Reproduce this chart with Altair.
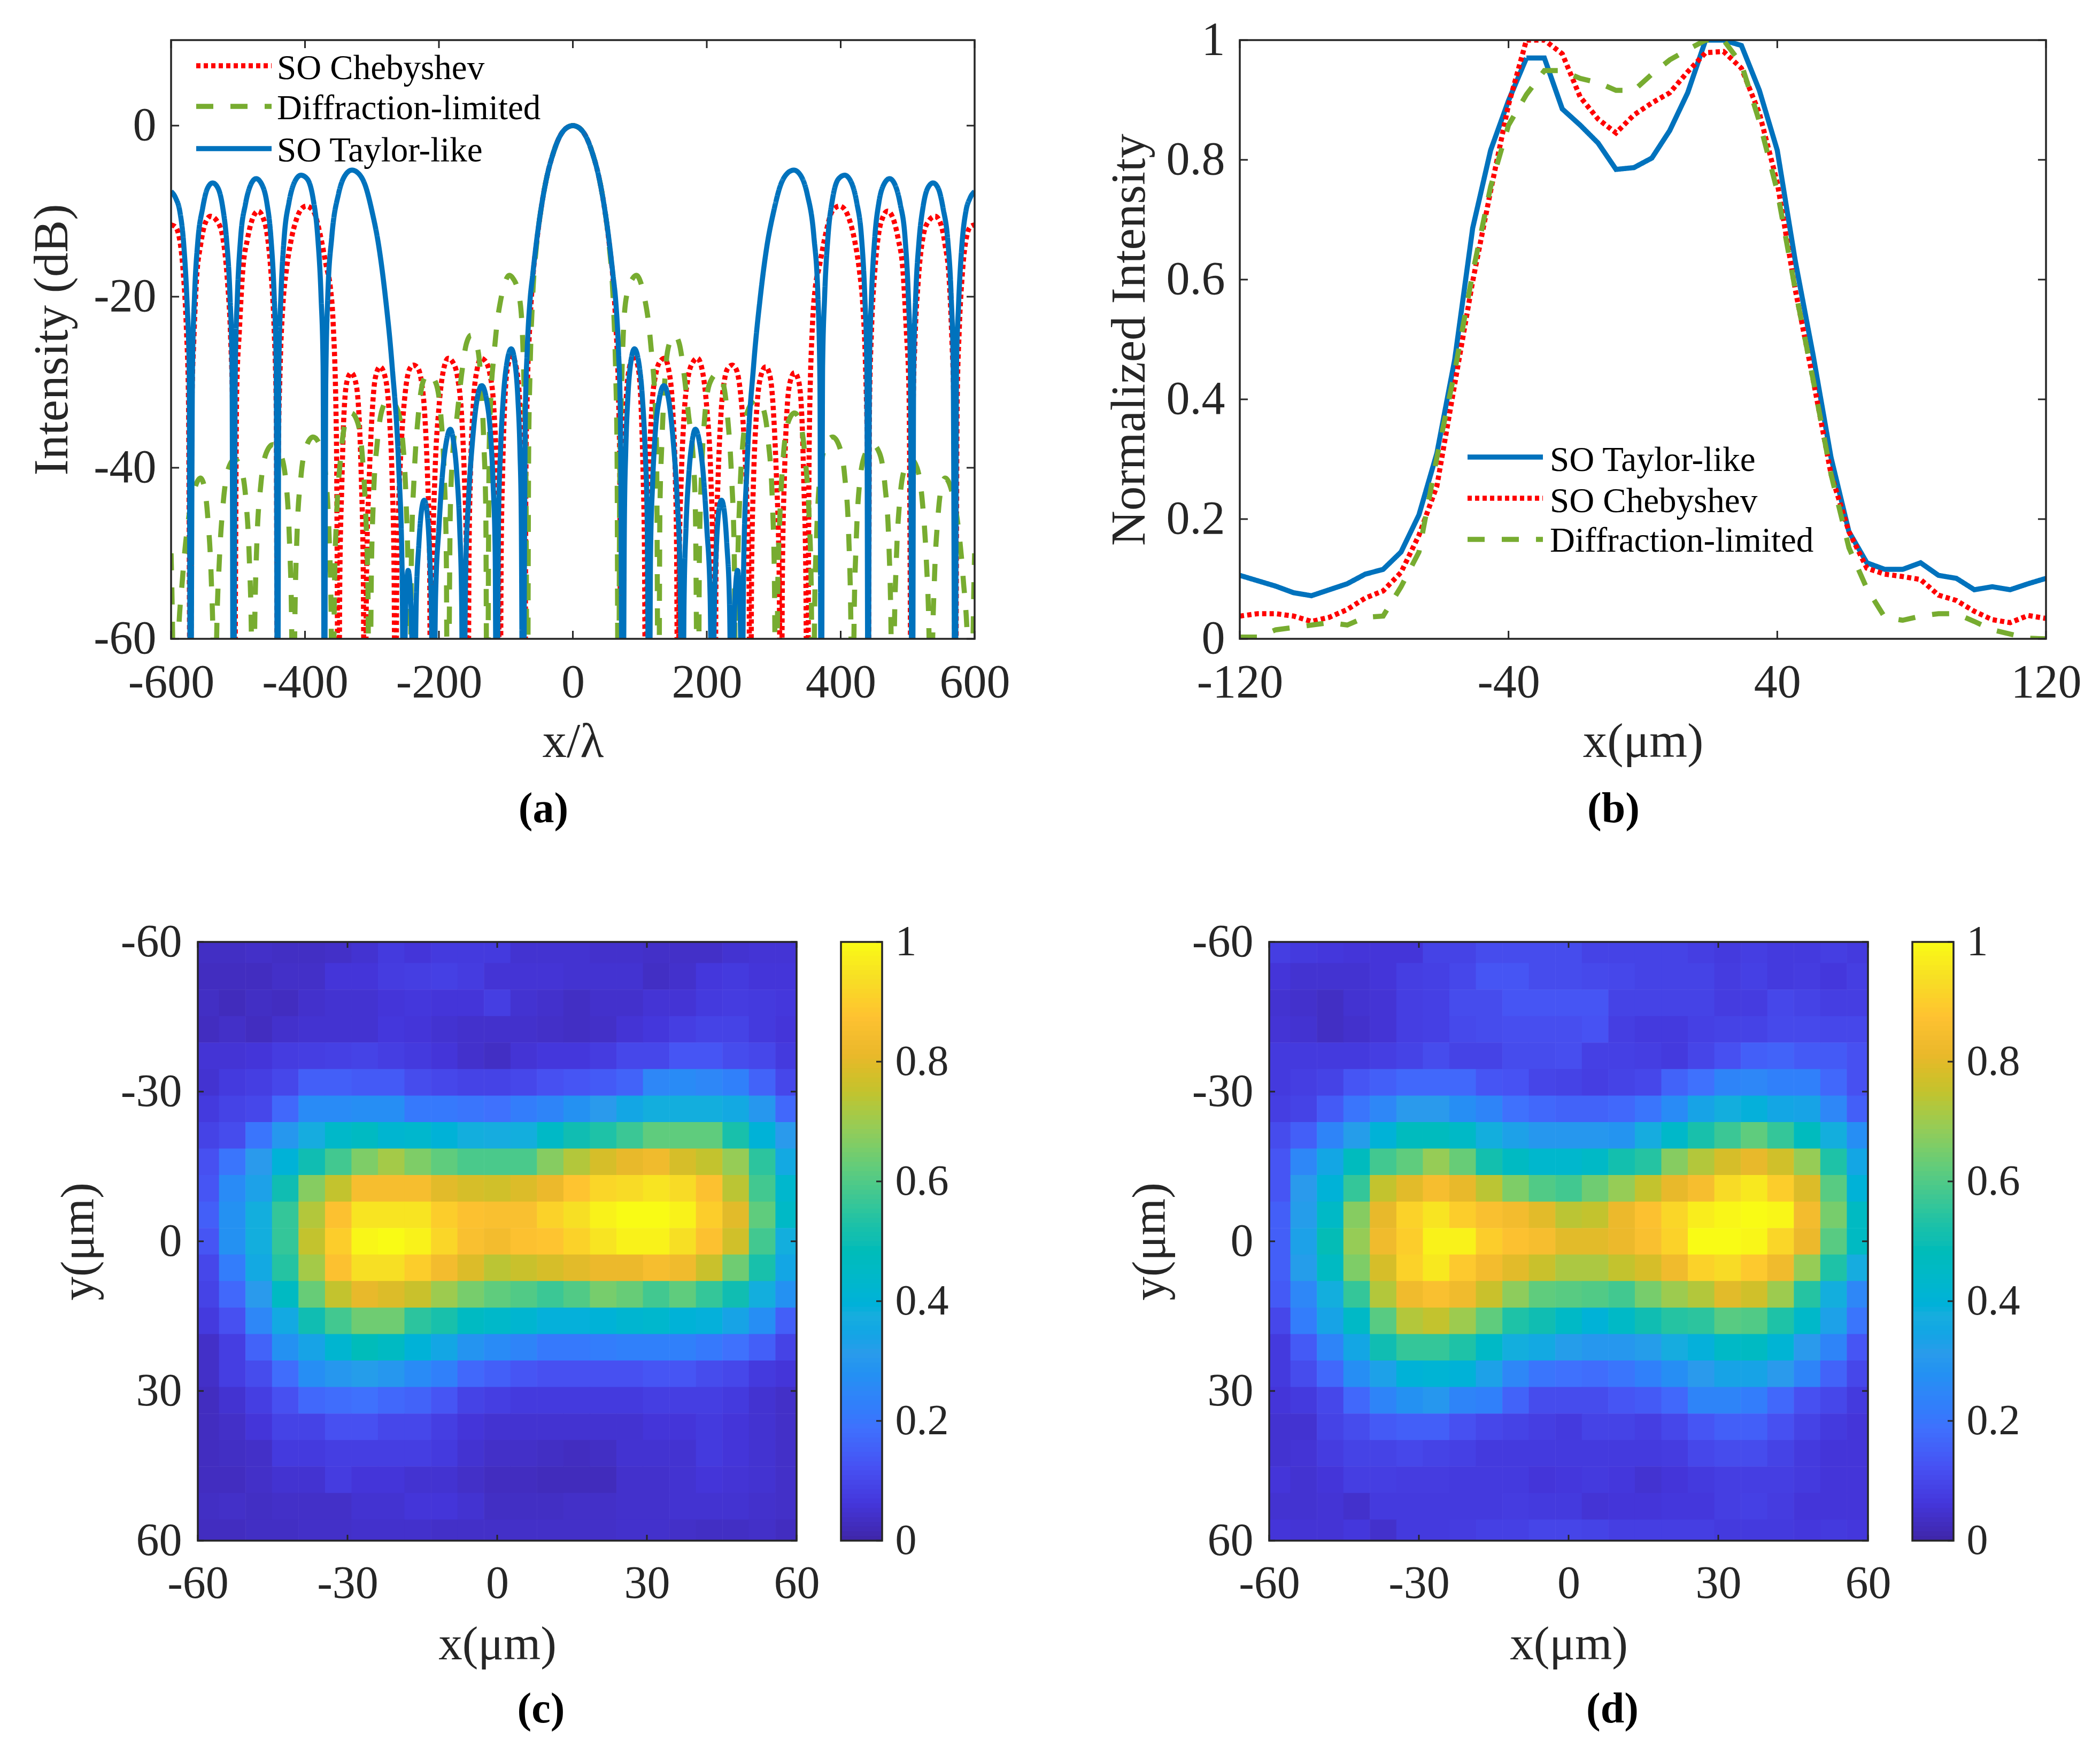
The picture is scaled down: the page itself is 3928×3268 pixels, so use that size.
import altair as alt
import pandas as pd

FONT = "Liberation Serif"
INK = "#262626"
NAMES = {"t": "SO Taylor-like", "c": "SO Chebyshev", "d": "Diffraction-limited"}
COLORS = {NAMES["t"]: "#0072BD", NAMES["c"]: "#FF0000", NAMES["d"]: "#77AC30"}
DASHES = {NAMES["t"]: [1, 0], NAMES["c"]: [8, 6], NAMES["d"]: [32, 32]}

# Panel (a): pattern for x >= 0, the figure is mirror-symmetric about x = 0
A_TAYLOR = [(0,0),(10,-0.3),(21,-1.5),(30,-3.4),(38,-5.7),(46,-9),(54,-13.4),(60,-17.5),(64,-20.5),(68,-26),(71,-34),(74.5,-80),
 (77,-46),(79,-38),(82,-32),(86,-28),(92,-26.1),(98,-27.5),(104,-32),(108,-38),(111,-46),(114,-80),
 (116,-50),(119,-42),(123,-36),(129,-32),(136,-30.4),(143,-32),(150,-37),(156,-44),(160,-52),(164,-80),
 (166,-56),(169,-47),(173,-41),(178,-37),(183,-35.5),(189,-37),(195,-41),(200,-47),(205,-55),(209,-80),
 (211,-58),(214,-50),(218,-45),(222,-43.8),(226,-45),(230,-49),(234,-56),(238,-80),
 (240,-62),(243,-54),(246,-52),(249,-55),(251,-63),(252,-80),
 (255,-52),(260,-40),(270,-28),(280,-20),(290,-14),(300,-10),(310,-7),(320,-5.6),(330,-5.2),(340,-5.8),(350,-8),(360,-13),(366,-20),(369,-30),(371,-80),
 (373,-28),(376,-20),(381,-13),(388,-8.5),(397,-6.2),(406,-5.8),(415,-6.5),(424,-9),(431,-13),(436,-20),(439,-28),(441,-80),
 (443,-28),(446,-20),(451,-13),(457,-9),(465,-6.8),(473,-6.2),(481,-6.9),(489,-9.2),(496,-13),(501,-20),(504,-28),(507,-80),
 (509,-28),(512,-20),(517,-13.5),(523,-9.5),(530,-7.3),(538,-6.7),(546,-7.4),(553,-9.7),(560,-13.5),(565,-20),(568,-28),(571,-80),
 (573,-28),(576,-21),(581,-14),(587,-10),(593,-8.5),(600,-7.7)]
A_CHEBY = [(0,0),(10,-0.3),(21,-1.5),(30,-3.4),(38,-5.7),(46,-9),(54,-13.6),(60,-18),(64,-23),(68,-31),(70,-40),(72,-80),
 (74,-50),(76,-40),(79,-33),(84,-28.5),(91,-26.9),(98,-28.5),(102,-33),(105,-41),(107,-50),(109,-80),
 (111,-50),(114,-40),(118,-33),(124,-29),(131,-27.5),(137,-27.2),(143,-28.5),(149,-33),(153,-41),(155,-50),(157,-80),
 (159,-50),(162,-41),(166,-34),(172,-29.5),(179,-27.7),(186,-27.2),(193,-28.5),(200,-33),(206,-41),(209,-50),(212,-80),
 (214,-50),(217,-41),(221,-34),(227,-29.5),(232,-28.3),(238,-28),(244,-28.5),(250,-31),(256,-37),(260,-44),(263,-53),(265,-80),
 (267,-52),(270,-41),(274,-34),(280,-29.5),(288,-28.2),(295,-29.5),(300,-34),(304,-41),(308,-52),(311,-80),
 (313,-52),(316,-41),(320,-33),(325,-29.8),(331,-28.9),(337,-29.8),(342,-34),(345,-42),(348,-53),(350,-80),
 (353,-37),(358,-23),(362,-19),(368,-16.5),(378,-12.5),(385,-10.4),(392,-9.6),(398,-9.4),(405,-9.7),(413,-11),(421,-13.5),(428,-17),(433,-21),(437,-28),(440,-40),(441,-80),
 (443,-33),(446,-24),(451,-17),(457,-12.5),(463,-10.7),(470,-10),(478,-10.8),(486,-13.3),(493,-17),(498,-24),(502,-31),(506,-80),
 (508,-34),(511,-25),(516,-18),(523,-13),(531,-11.2),(541,-10.6),(549,-11.4),(556,-14),(562,-18),(566,-25),(569,-33),(571,-80),
 (574,-32),(577,-24),(582,-17),(588,-13),(594,-11.8),(600,-11.6)]
A_DIFF = [(0,0),(10,-0.3),(21,-1.5),(30,-3.4),(38,-5.7),(46,-9),(54,-13.8),(60,-20),(64,-29),(66,-38),(68,-80),
 (70,-42),(73,-30),(77,-22),(83,-19),(89,-17.9),(95,-17.5),(102,-18.5),(108,-20.5),(113,-23),(118,-27),(122,-31),(125,-38),(128,-80),
 (130,-45),(133,-37),(138,-29),(144,-25.5),(152,-24.5),(159,-25.5),(166,-29),(173,-34),(179,-38),(183,-45),(187,-80),
 (189,-50),(192,-41),(197,-34),(205,-30),(216,-29),(224,-30),(231,-34),(237,-41),(241,-50),(244,-80),
 (246,-53),(249,-44),(254,-37),(263,-33),(275,-32),(284,-33),(292,-37),(298,-44),(301,-53),(304,-80),
 (306,-54),(309,-46),(314,-39),(321,-34.8),(331,-33.6),(340,-34.8),(347,-39),(353,-46),(356,-54),(359,-80),
 (361,-57),(364,-48),(369,-41),(377,-37.5),(388,-36.4),(398,-37.5),(406,-41),(412,-48),(415,-57),(418,-80),
 (420,-58),(423,-49),(428,-42),(437,-38.3),(448,-37.3),(458,-38.3),(466,-42),(472,-49),(475,-58),(478,-80),
 (480,-60),(483,-51),(488,-44),(496,-40),(505,-39),(514,-40),(522,-44),(528,-51),(532,-60),(535,-80),
 (537,-62),(540,-53),(545,-46),(551,-42),(556,-41.2),(565,-42.5),(574,-46),(583,-53),(590,-62),(595,-80),
 (598,-58),(600,-50)]

# Panel (b)
B_X = [-120,-114.67,-109.33,-104,-98.67,-93.33,-88,-82.67,-77.33,-72,-66.67,-61.33,-56,-50.67,-45.33,-40,-34.67,-29.33,-24,-18.67,-13.33,-8,-2.67,2.67,8,13.33,18.67,24,29.33,34.67,40,45.33,50.67,56,61.33,66.67,72,77.33,82.67,88,93.33,98.67,104,109.33,114.67,120]
B_TAYLOR = [.106,.097,.088,.077,.072,.082,.092,.108,.116,.145,.207,.31,.467,.686,.816,.899,.97,.97,.885,.858,.828,.784,.787,.803,.849,.912,1,1,.991,.916,.816,.632,.474,.303,.179,.127,.116,.116,.127,.106,.101,.082,.087,.082,.092,.101]
B_CHEBY = [.038,.042,.042,.038,.029,.036,.049,.068,.08,.111,.173,.255,.426,.597,.748,.892,1,1,.977,.905,.868,.845,.875,.895,.912,.947,.979,.981,.953,.878,.762,.584,.433,.275,.179,.118,.108,.104,.099,.073,.064,.046,.032,.027,.039,.034]
B_DIFF = [.003,.003,.015,.019,.023,.027,.023,.036,.038,.087,.145,.303,.447,.611,.755,.858,.909,.949,.949,.936,.929,.916,.916,.943,.967,.984,1,1,.96,.864,.748,.584,.433,.275,.152,.084,.036,.031,.038,.042,.042,.029,.015,.008,.001,0]

# Panels (c), (d): 23 x 23 samples, top row first
C_ROWS = [
[.035,.035,.04,.035,.035,.04,.05,.07,.06,.07,.07,.07,.05,.05,.05,.045,.045,.04,.04,.04,.05,.055,.055],
[.03,.03,.03,.04,.04,.06,.06,.075,.08,.085,.075,.055,.055,.055,.05,.05,.05,.035,.045,.065,.07,.06,.06],
[.035,.025,.035,.03,.045,.05,.05,.06,.065,.06,.06,.08,.05,.045,.035,.045,.045,.055,.055,.07,.075,.07,.065],
[.03,.04,.03,.045,.05,.05,.05,.065,.06,.05,.045,.045,.045,.04,.035,.04,.055,.065,.08,.09,.09,.07,.06],
[.055,.055,.06,.075,.08,.085,.09,.08,.07,.06,.045,.035,.055,.065,.065,.075,.10,.10,.13,.13,.11,.10,.07],
[.05,.07,.08,.10,.15,.15,.14,.14,.11,.10,.09,.09,.10,.12,.13,.14,.16,.25,.26,.25,.23,.16,.10],
[.07,.09,.10,.17,.26,.26,.27,.27,.21,.21,.20,.19,.22,.24,.28,.31,.35,.38,.38,.38,.36,.30,.17],
[.09,.11,.20,.30,.37,.44,.46,.42,.43,.40,.38,.37,.38,.45,.50,.53,.57,.62,.62,.62,.52,.40,.31],
[.12,.20,.31,.40,.50,.58,.66,.71,.66,.62,.59,.59,.59,.67,.73,.78,.81,.83,.78,.75,.69,.55,.36],
[.13,.26,.33,.50,.67,.75,.85,.85,.85,.80,.78,.77,.79,.82,.88,.92,.93,.95,.93,.87,.74,.58,.43],
[.15,.28,.38,.56,.73,.87,.95,.95,.95,.90,.87,.86,.86,.91,.94,.98,1.0,1.0,.98,.90,.80,.62,.45],
[.13,.28,.38,.56,.75,.90,.99,1.0,.98,.92,.86,.84,.87,.88,.91,.95,.98,.98,.94,.87,.77,.58,.38],
[.10,.22,.36,.54,.71,.87,.94,.94,.90,.84,.79,.74,.76,.78,.80,.82,.82,.85,.83,.76,.64,.52,.35],
[.09,.17,.31,.46,.63,.75,.81,.79,.76,.70,.65,.62,.60,.57,.60,.65,.63,.58,.62,.56,.50,.38,.28],
[.07,.12,.25,.36,.50,.58,.64,.64,.55,.52,.46,.44,.42,.39,.39,.40,.42,.43,.40,.39,.34,.27,.15],
[.04,.08,.16,.28,.34,.42,.48,.46,.40,.35,.29,.26,.24,.21,.21,.22,.23,.23,.23,.21,.19,.15,.09],
[.04,.08,.11,.18,.27,.30,.32,.30,.26,.23,.17,.15,.13,.12,.12,.12,.12,.13,.13,.11,.10,.07,.06],
[.03,.05,.08,.12,.17,.18,.19,.17,.16,.13,.09,.08,.07,.07,.07,.07,.07,.08,.08,.08,.07,.05,.04],
[.03,.04,.06,.09,.09,.12,.12,.10,.10,.08,.06,.05,.05,.05,.05,.05,.05,.06,.06,.07,.06,.05,.04],
[.03,.035,.04,.07,.07,.08,.08,.08,.08,.07,.05,.04,.04,.035,.03,.035,.05,.05,.05,.07,.06,.05,.04],
[.03,.03,.04,.05,.05,.075,.06,.06,.05,.05,.04,.03,.03,.025,.025,.025,.045,.045,.05,.06,.055,.05,.04],
[.035,.04,.035,.04,.04,.04,.05,.05,.06,.06,.05,.035,.035,.035,.04,.04,.045,.045,.05,.05,.05,.045,.04],
[.03,.03,.035,.035,.04,.04,.045,.045,.045,.04,.04,.04,.04,.04,.04,.04,.045,.045,.04,.035,.035,.04,.03],
]
D_ROWS = [
[.08,.07,.065,.06,.06,.06,.09,.09,.11,.11,.11,.11,.09,.09,.09,.09,.08,.07,.08,.07,.07,.08,.07],
[.06,.05,.05,.05,.06,.08,.085,.10,.13,.13,.11,.11,.105,.10,.09,.09,.09,.075,.085,.07,.075,.065,.08],
[.05,.045,.035,.05,.055,.08,.085,.11,.11,.13,.13,.13,.13,.09,.09,.09,.09,.075,.075,.10,.09,.08,.08],
[.055,.05,.035,.045,.055,.08,.085,.105,.11,.115,.115,.115,.125,.08,.07,.07,.085,.09,.09,.105,.105,.10,.10],
[.07,.07,.07,.07,.08,.09,.11,.09,.09,.11,.11,.115,.085,.085,.08,.07,.095,.12,.15,.16,.14,.14,.12],
[.07,.08,.09,.13,.15,.17,.17,.17,.13,.125,.095,.09,.08,.09,.10,.16,.19,.24,.25,.23,.23,.17,.12],
[.08,.09,.14,.20,.25,.31,.31,.27,.24,.19,.17,.16,.16,.17,.20,.26,.34,.38,.39,.35,.34,.25,.15],
[.11,.15,.24,.32,.40,.47,.47,.45,.38,.33,.30,.30,.30,.29,.37,.44,.52,.57,.62,.56,.47,.38,.27],
[.13,.25,.35,.47,.58,.62,.69,.63,.51,.46,.43,.43,.45,.51,.54,.67,.73,.78,.81,.77,.69,.53,.35],
[.13,.31,.40,.56,.75,.80,.85,.81,.74,.66,.60,.58,.64,.69,.75,.81,.85,.93,.96,.90,.79,.61,.40],
[.15,.32,.45,.67,.81,.91,.95,.90,.86,.84,.80,.74,.75,.82,.87,.92,.97,.99,1.0,.99,.84,.65,.46],
[.15,.33,.49,.69,.83,.90,.98,.98,.90,.87,.85,.80,.80,.82,.86,.91,1.0,1.0,.99,.92,.82,.61,.46],
[.15,.32,.46,.66,.78,.91,.96,.89,.84,.80,.76,.72,.72,.75,.78,.83,.91,.93,.89,.83,.69,.53,.37],
[.14,.25,.38,.56,.73,.83,.86,.83,.76,.68,.62,.61,.60,.58,.65,.70,.73,.80,.77,.70,.54,.38,.25],
[.10,.22,.34,.45,.61,.73,.75,.70,.62,.53,.50,.45,.40,.45,.50,.54,.55,.61,.60,.53,.44,.33,.20],
[.07,.14,.24,.35,.50,.56,.56,.53,.45,.38,.36,.32,.30,.30,.32,.37,.39,.45,.46,.41,.31,.24,.13],
[.07,.11,.17,.27,.33,.40,.41,.40,.33,.25,.20,.19,.18,.20,.23,.27,.31,.34,.34,.31,.24,.16,.10],
[.06,.07,.10,.17,.24,.28,.30,.24,.23,.16,.11,.11,.11,.13,.14,.17,.24,.24,.22,.17,.12,.10,.07],
[.05,.05,.09,.11,.14,.15,.15,.12,.10,.09,.08,.07,.09,.09,.08,.10,.13,.15,.15,.12,.09,.07,.06],
[.05,.055,.075,.09,.09,.10,.09,.085,.07,.07,.07,.07,.07,.07,.07,.075,.10,.11,.11,.09,.07,.06,.06],
[.06,.05,.06,.08,.08,.075,.075,.07,.07,.07,.06,.065,.07,.065,.05,.06,.07,.08,.08,.08,.07,.06,.06],
[.05,.05,.055,.045,.07,.07,.07,.07,.07,.075,.07,.07,.055,.06,.06,.065,.065,.08,.085,.075,.06,.06,.06],
[.06,.055,.055,.065,.045,.07,.07,.075,.085,.085,.095,.095,.09,.08,.08,.08,.08,.07,.07,.07,.065,.07,.065],
]
CELL_STEP = 5.31
PARULA_STOPS = [0,.0625,.125,.1875,.25,.3125,.375,.4375,.5,.5625,.625,.6875,.75,.8125,.875,.9375,1]
PARULA = ["#3E26A8","#4436DB","#4752F3","#4070FD","#2E87F7","#2B9BEB","#19ADDE","#01B8CA","#10BDB2",
          "#36C698","#63CC7A","#94CC58","#C3C32E","#EAB82B","#FEC231","#F7DE25","#F9FB15"]
COLORBAR_TICKS = [0, .2, .4, .6, .8, 1]
COLORBAR_LEVELS = [round(i / 128, 5) for i in range(128)]

A_W, B_W, H_W, CB_W = 1503, 1508, 1120, 77
H = 1120
CAPTION_SIZE = 80
ONE = pd.DataFrame({"k": [0]})


def frame(w, h):
    return alt.Chart(ONE).mark_rect(fillOpacity=0, stroke=INK, strokeWidth=3.5).encode(
        x=alt.value(0), x2=alt.value(w), y=alt.value(0), y2=alt.value(h))


def ticks(xvals, yvals, w, h, xs, ys, xa, ya, size):
    xdf = pd.DataFrame({"tx": xvals})
    ydf = pd.DataFrame({"ty": yvals})
    X = alt.X("tx:Q", scale=xs, axis=xa)
    Y = alt.Y("ty:Q", scale=ys, axis=ya)
    return [
        alt.Chart(xdf).mark_rule(color=INK, strokeWidth=3).encode(x=X, y=alt.value(h), y2=alt.value(h - size)),
        alt.Chart(xdf).mark_rule(color=INK, strokeWidth=3).encode(x=X, y=alt.value(0), y2=alt.value(size)),
        alt.Chart(ydf).mark_rule(color=INK, strokeWidth=3).encode(y=Y, x=alt.value(0), x2=alt.value(size)),
        alt.Chart(ydf).mark_rule(color=INK, strokeWidth=3).encode(y=Y, x=alt.value(w), x2=alt.value(w - size)),
    ]


def axis(values, title, size, label_pad, title_pad, **kw):
    return alt.Axis(values=values, title=title, labelExpr="datum.value + ''", ticks=False, domain=False, grid=False,
                    labelFont=FONT, labelFontSize=size, labelColor=INK, labelPadding=label_pad, labelOverlap=False,
                    labelFlush=False, titleFont=FONT, titleFontSize=size + 3, titleColor=INK, titleFontWeight="normal",
                    titlePadding=title_pad, **kw)


def caption(text, dx, offset):
    return alt.TitleParams(text, orient="bottom", anchor="middle", font=FONT, fontSize=CAPTION_SIZE, fontWeight="bold",
                           color="#000000", offset=offset, dx=dx)


def legend_layers(order, lx, tx, line_y, text_y):
    out = []
    for name, ly, ty in zip(order, line_y, text_y):
        out.append(alt.Chart(ONE).mark_rule(color=COLORS[name], strokeDash=DASHES[name], strokeWidth=9.5).encode(
            x=alt.value(lx), x2=alt.value(lx + 141), y=alt.value(ly)))
        out.append(alt.Chart(ONE).mark_text(align="left", baseline="middle", font=FONT, fontSize=65, color="#000000").encode(
            x=alt.value(tx), y=alt.value(ty), text=alt.value(name)))
    return out


def line_panel(df, order, w, xdom, xvals, ydom, yvals, xtitle, ytitle, leg, cap, ylabel_pad, ytitle_pad, interp):
    xs = alt.Scale(domain=xdom, nice=False, zero=False)
    ys = alt.Scale(domain=ydom, nice=False, zero=False)
    xa = axis(xvals, xtitle, 88, 38, 22)
    ya = axis(yvals, ytitle, 88, ylabel_pad, ytitle_pad)
    base = alt.Chart(df).mark_line(strokeWidth=9.5, clip=True, interpolate=interp).encode(
        x=alt.X("x:Q", scale=xs, axis=xa),
        y=alt.Y("y:Q", scale=ys, axis=ya),
        color=alt.Color("series:N", scale=alt.Scale(domain=order, range=[COLORS[k] for k in order]), legend=None),
        strokeDash=alt.StrokeDash("series:N", scale=alt.Scale(domain=order, range=[DASHES[k] for k in order]), legend=None),
    )
    return alt.layer(base, *ticks(xvals, yvals, w, H, xs, ys, xa, ya, 15), frame(w, H), *legend_layers(order, *leg)).properties(
        width=w, height=H, title=caption(cap, -55, 42))


def heat_panel(rows, cap, field):
    records = []
    n = len(rows)
    for r, row in enumerate(rows):
        for c, v in enumerate(row):
            records.append({"x": (c - (n - 1) / 2) * CELL_STEP, "y": (r - (n - 1) / 2) * CELL_STEP, "v": v})
    df = pd.DataFrame(records)
    xs = alt.Scale(domain=[-60, 60], nice=False, zero=False)
    ys = alt.Scale(domain=[60, -60], nice=False, zero=False)
    vals = [-60, -30, 0, 30, 60]
    xa = axis(vals, field[0], 86, 38, 28)
    ya = axis(vals, field[1], 86, 30, 32)
    half = CELL_STEP / 2
    base = alt.Chart(df).transform_calculate(
        x0=f"datum.x-{half}", x1=f"datum.x+{half + 0.06}", y0=f"datum.y-{half}", y1=f"datum.y+{half + 0.06}"
    ).mark_rect(clip=True, strokeWidth=0).encode(
        x=alt.X("x0:Q", scale=xs, axis=xa),
        x2="x1:Q",
        y=alt.Y("y0:Q", scale=ys, axis=ya),
        y2="y1:Q",
        color=alt.Color("v:Q", scale=alt.Scale(domain=PARULA_STOPS, range=PARULA), legend=None),
    )
    return alt.layer(base, *ticks(vals, vals, H_W, H, xs, ys, xa, ya, 11), frame(H_W, H)).properties(
        width=H_W, height=H, title=caption(cap, 82, 38))


def colorbar():
    df = pd.DataFrame({"v0": COLORBAR_LEVELS})
    ys = alt.Scale(domain=[0, 1], nice=False, zero=False)
    ya = axis(COLORBAR_TICKS, None, 80, 24, 0, orient="right")
    base = alt.Chart(df).transform_calculate(v1="datum.v0 + 0.0085", vc="datum.v0 + 0.004").mark_rect(strokeWidth=0, clip=True).encode(
        y=alt.Y("v0:Q", scale=ys, axis=ya),
        y2="v1:Q",
        x=alt.value(0), x2=alt.value(CB_W),
        color=alt.Color("vc:Q", scale=alt.Scale(domain=PARULA_STOPS, range=PARULA), legend=None),
    )
    tick = alt.Chart(pd.DataFrame({"ty": COLORBAR_TICKS})).mark_rule(color=INK, strokeWidth=3).encode(
        y=alt.Y("ty:Q", scale=ys, axis=ya), x=alt.value(CB_W), x2=alt.value(CB_W - 11))
    return alt.layer(base, tick, frame(CB_W, H)).properties(width=CB_W, height=H)


def frame_df(pairs, name):
    rows = [{"x": -x, "y": y, "series": name} for x, y in reversed(pairs) if x > 0] + [{"x": x, "y": y, "series": name} for x, y in pairs]
    return pd.DataFrame(rows)


def spacer(w):
    return alt.Chart(pd.DataFrame({"v": [0]})).mark_point(opacity=0).encode(
        x=alt.X("v:Q", axis=None), y=alt.Y("v:Q", axis=None)).properties(width=w, height=H)


df_a = pd.concat([frame_df(A_CHEBY, NAMES["c"]), frame_df(A_DIFF, NAMES["d"]), frame_df(A_TAYLOR, NAMES["t"])])
df_b = pd.concat([
    pd.DataFrame({"x": B_X, "y": B_TAYLOR, "series": NAMES["t"]}),
    pd.DataFrame({"x": B_X, "y": B_CHEBY, "series": NAMES["c"]}),
    pd.DataFrame({"x": B_X, "y": B_DIFF, "series": NAMES["d"]}),
])

a = line_panel(df_a, [NAMES["c"], NAMES["d"], NAMES["t"]], A_W, [-600, 600], [-600, -400, -200, 0, 200, 400, 600],
               [-60, 10], [-60, -40, -20, 0], "x/λ", "Intensity (dB)", (47, 198, [48, 124, 203], [53, 128, 207]), "(a)", 28, 30, "monotone")
b = line_panel(df_b, [NAMES["t"], NAMES["c"], NAMES["d"]], B_W, [-120, 120], [-120, -40, 40, 120],
               [0, 1], [0, .2, .4, .6, .8, 1], "x(μm)", "Normalized Intensity", (426, 580, [780, 857, 934], [786, 863, 937]), "(b)", 28, 22, "linear")
c = heat_panel(C_ROWS, "(c)", ("x(μm)", "y(μm)"))
d = heat_panel(D_ROWS, "(d)", ("x(μm)", "y(μm)"))

row1 = alt.hconcat(a, spacer(496), b, spacing=0, bounds="flush")
row2 = alt.hconcat(spacer(50), c, spacer(83), colorbar(), spacer(724), d, spacer(83), colorbar(), spacing=0, bounds="flush")

chart = alt.vconcat(row1, row2, spacing=165).properties(
    padding={"left": 44, "top": 23, "right": 20, "bottom": 20}, background="white"
).configure_view(stroke=None)

chart.save("out.html", embed_options={"renderer": "svg", "actions": False})
